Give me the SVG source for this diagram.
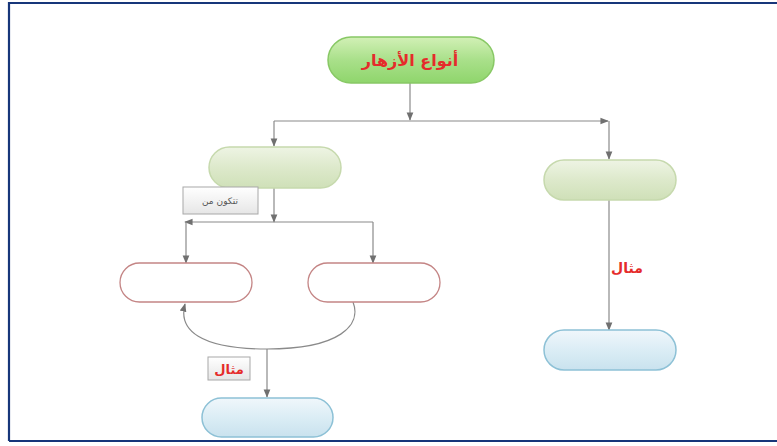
<svg xmlns="http://www.w3.org/2000/svg" width="777" height="446" viewBox="0 0 777 446">
  <defs>
    <linearGradient id="gTop" x1="0" y1="0" x2="0" y2="1">
      <stop offset="0" stop-color="#d2f0b6"/>
      <stop offset="0.5" stop-color="#a9e08a"/>
      <stop offset="1" stop-color="#8fd56c"/>
    </linearGradient>
    <linearGradient id="gMid" x1="0" y1="0" x2="0" y2="1">
      <stop offset="0" stop-color="#eef4e4"/>
      <stop offset="0.5" stop-color="#dde9cb"/>
      <stop offset="1" stop-color="#cfe0b8"/>
    </linearGradient>
    <linearGradient id="gBlue" x1="0" y1="0" x2="0" y2="1">
      <stop offset="0" stop-color="#f0f7fb"/>
      <stop offset="0.5" stop-color="#dbedf5"/>
      <stop offset="1" stop-color="#c9e2ee"/>
    </linearGradient>
    <linearGradient id="gBox" x1="0" y1="0" x2="0" y2="1">
      <stop offset="0" stop-color="#ffffff"/>
      <stop offset="1" stop-color="#e6e6e6"/>
    </linearGradient>
    <marker id="arr" viewBox="0 0 10 10" refX="9" refY="5" markerWidth="7" markerHeight="7" orient="auto">
      <path d="M0,1 L10,5 L0,9 z" fill="#707070"/>
    </marker>
    <style>
      .conn { fill: none; stroke: #8a8a8a; stroke-width: 1.2; }
      .top { fill: url(#gTop); stroke: #88c865; stroke-width: 1.5; }
      .mid { fill: url(#gMid); stroke: #c6d9ad; stroke-width: 1.5; }
      .blue { fill: url(#gBlue); stroke: #8dc1d6; stroke-width: 1.5; }
      .empty { fill: #ffffff; stroke: #c48585; stroke-width: 1.3; }
      .lbl { fill: url(#gBox); stroke: #a8a8a8; stroke-width: 1; }
      .red { font-family: "DejaVu Sans", sans-serif; font-weight: bold; fill: #e52b2b; text-anchor: middle; }
      .small { font-family: "DejaVu Sans", sans-serif; fill: #555555; text-anchor: middle; font-size: 9px; }
    </style>
  </defs>

  <rect width="777" height="446" fill="#ffffff"/>
  <!-- page frame -->
  <path d="M9,441 V3 H777 M9,441 H777" fill="none" stroke="#17367a" stroke-width="2.2"/>

  <g id="connectors">
    <line class="conn" x1="410" y1="83" x2="410" y2="120" marker-end="url(#arr)"/>
    <line class="conn" x1="274" y1="121" x2="608" y2="121" marker-end="url(#arr)"/>
    <line class="conn" x1="274" y1="121" x2="274" y2="146" marker-end="url(#arr)"/>
    <line class="conn" x1="609" y1="121" x2="609" y2="159" marker-end="url(#arr)"/>
    <line class="conn" x1="274" y1="188" x2="274" y2="222" marker-end="url(#arr)"/>
    <line class="conn" x1="373" y1="222" x2="185" y2="222" marker-end="url(#arr)"/>
    <line class="conn" x1="186" y1="222" x2="186" y2="263" marker-end="url(#arr)"/>
    <line class="conn" x1="373" y1="222" x2="373" y2="263" marker-end="url(#arr)"/>
    <path class="conn" d="M353,302 C362,325 340,349 267,349 C200,349 178,330 185,304" marker-end="url(#arr)"/>
    <line class="conn" x1="267" y1="349" x2="267" y2="397" marker-end="url(#arr)"/>
    <line class="conn" x1="609" y1="200" x2="609" y2="330" marker-end="url(#arr)"/>
    <text class="red" x="627" y="273" font-size="14">مثال</text>
  </g>

  <g id="node-root">
    <rect class="top" x="328" y="37" width="166" height="46" rx="23"/>
    <text class="red" x="410" y="66" font-size="16">أنواع الأزهار</text>
  </g>

  <g id="node-left">
    <rect class="mid" x="209" y="147" width="132" height="41" rx="20.5"/>
  </g>

  <g id="node-right">
    <rect class="mid" x="544" y="160" width="132" height="40" rx="20"/>
  </g>

  <g id="label-consists">
    <rect class="lbl" x="183" y="187" width="75" height="27"/>
    <text class="small" x="220" y="204">تتكون من</text>
  </g>

  <g id="node-part-a">
    <rect class="empty" x="120" y="263" width="132" height="39" rx="19.5"/>
  </g>

  <g id="node-part-b">
    <rect class="empty" x="308" y="263" width="132" height="39" rx="19.5"/>
  </g>

  <g id="label-example">
    <rect class="lbl" x="208" y="357" width="42" height="23"/>
    <text class="red" x="229" y="374" font-size="13">مثال</text>
  </g>

  <g id="node-example-left">
    <rect class="blue" x="202" y="398" width="131" height="39" rx="19.5"/>
  </g>

  <g id="node-example-right">
    <rect class="blue" x="544" y="330" width="132" height="40" rx="20"/>
  </g>
</svg>
